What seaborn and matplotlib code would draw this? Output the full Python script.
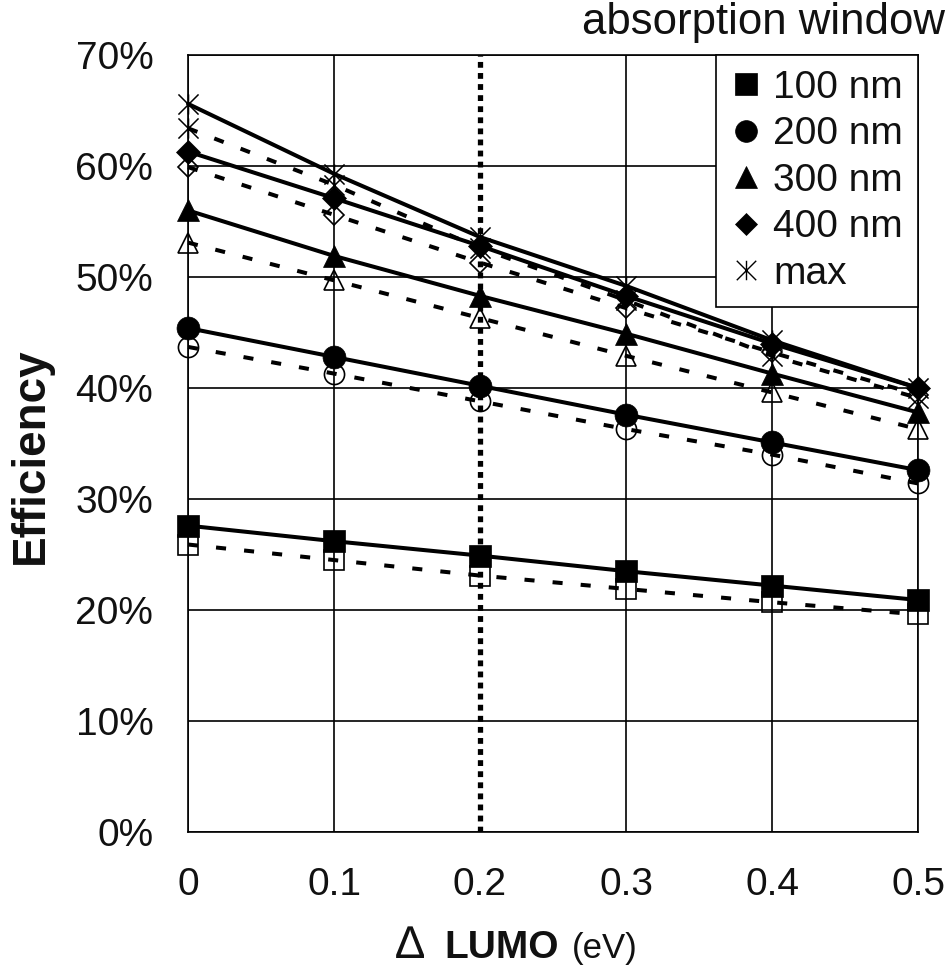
import matplotlib
matplotlib.use("Agg")
import matplotlib.pyplot as plt
from matplotlib.path import Path
from matplotlib.lines import Line2D
from matplotlib.ticker import FuncFormatter
import pandas as pd
import seaborn as sns

# ---- data -------------------------------------------------------------
delta_lumo = [0.0, 0.1, 0.2, 0.3, 0.4, 0.5]
windows = ["100 nm", "200 nm", "300 nm", "400 nm", "max"]

# efficiency (%) - solid lines, filled markers
solid_100 = [27.6, 26.2, 24.9, 23.5, 22.2, 20.9]
solid_200 = [45.4, 42.8, 40.2, 37.6, 35.1, 32.6]
solid_300 = [56.0, 51.9, 48.3, 44.9, 41.3, 37.8]
solid_400 = [61.3, 57.1, 52.8, 48.3, 44.0, 40.0]
solid_max = [65.6, 59.3, 53.6, 49.2, 44.3, 40.0]

# efficiency (%) - dashed lines, open markers
dashed_100 = [25.9, 24.5, 23.1, 21.9, 20.7, 19.6]
dashed_200 = [43.7, 41.3, 38.8, 36.3, 34.0, 31.4]
dashed_300 = [53.1, 49.7, 46.3, 42.9, 39.6, 36.3]
dashed_400 = [59.9, 55.6, 51.3, 47.2, 43.2, 39.4]
dashed_max = [63.4, 58.3, 52.6, 47.9, 42.9, 39.1]

y_ticks = [0, 10, 20, 30, 40, 50, 60, 70]
x_ticks = [0, 0.1, 0.2, 0.3, 0.4, 0.5]

solid = [solid_100, solid_200, solid_300, solid_400, solid_max]
dashed = [dashed_100, dashed_200, dashed_300, dashed_400, dashed_max]

# asterisk marker: vertical bar plus an X
asterisk = Path(
    [(0, -1), (0, 1), (-1, -1), (1, 1), (-1, 1), (1, -1)],
    [Path.MOVETO, Path.LINETO, Path.MOVETO, Path.LINETO, Path.MOVETO, Path.LINETO],
)

markers = ["s", "o", "^", "D", asterisk]
sizes = [16.0, 16.5, 16.0, 12.0, 14.5]
open_sizes = [14.0, 14.5, 14.5, 10.5, 14.5]

# ---- style ------------------------------------------------------------
sns.set_theme(style="white")
plt.rcParams["font.family"] = ["Liberation Sans", "DejaVu Sans"]
plt.rcParams["text.color"] = "#111111"

W, H = 947, 968
fig = plt.figure(figsize=(W / 100, H / 100), dpi=100)
ax = fig.add_axes([188 / W, 1 - 832 / H, (918 - 188) / W, (832 - 55) / H])

frames = []
for name, s_vals, d_vals in zip(windows, solid, dashed):
    frames.append(pd.DataFrame({"x": delta_lumo, "y": s_vals, "window": name, "kind": "solid"}))
    frames.append(pd.DataFrame({"x": delta_lumo, "y": d_vals, "window": name, "kind": "dashed"}))
df = pd.concat(frames, ignore_index=True)

# grid (the 0.2 grid line is replaced by a thick dotted line)
for xv in x_ticks:
    if abs(xv - 0.2) > 1e-9:
        ax.axvline(xv, color="black", lw=1.2, zorder=1)
for yv in y_ticks:
    ax.axhline(yv, color="black", lw=1.2, zorder=1)
ax.axvline(0.2, color="black", lw=3.8, ls=(0, (1.1, 1.0)), zorder=1.5)

# dashed series with open markers first, solid series with filled markers on top
for i, name in enumerate(windows):
    sub = df[(df.window == name) & (df.kind == "dashed")]
    is_ast = i == 4
    sns.lineplot(
        data=sub, x="x", y="y", ax=ax, color="black", lw=2.9,
        linestyle=(0, (2.5, 4.5)), marker=markers[i], markersize=open_sizes[i],
        markerfacecolor="none", markeredgecolor="black",
        markeredgewidth=1.1 if is_ast else 1.2, errorbar=None, zorder=3, clip_on=False,
    )
for i, name in enumerate(windows):
    sub = df[(df.window == name) & (df.kind == "solid")]
    is_ast = i == 4
    sns.lineplot(
        data=sub, x="x", y="y", ax=ax, color="black", lw=2.9, linestyle="-",
        marker=markers[i], markersize=sizes[i],
        markerfacecolor="none" if is_ast else "black", markeredgecolor="black",
        markeredgewidth=1.1 if is_ast else 0.5, errorbar=None, zorder=4, clip_on=False,
    )

# ---- axes -------------------------------------------------------------
ax.set_xlim(0, 0.5)
ax.set_ylim(0, 70)
ax.set_xticks(x_ticks)
ax.set_yticks(y_ticks)
ax.xaxis.set_major_formatter(FuncFormatter(lambda v, p: "0" if v == 0 else f"{v:.1f}"))
ax.yaxis.set_major_formatter(FuncFormatter(lambda v, p: f"{v:.0f}%"))
ax.tick_params(axis="both", which="major", direction="out", length=7, width=1.1,
               color="black", labelsize=28, labelcolor="#111111")
ax.tick_params(axis="y", pad=18)
ax.tick_params(axis="x", pad=18)
for sp in ax.spines.values():
    sp.set_color("black")
    sp.set_linewidth(1.2)
ax.set_xlabel("")
ax.set_ylabel("")

# axis titles
fig.text(31 / W, 1 - 456 / H, "Efficiency", rotation=90, ha="center", va="center",
         fontsize=33, fontweight="bold")
fig.text(396 / W, 1 - 958 / H, "\u2206", ha="left", va="baseline", fontsize=33)
fig.text(444 / W, 1 - 958 / H, "LUMO", ha="left", va="baseline", fontsize=28, fontweight="bold")
fig.text(572 / W, 1 - 958 / H, "(eV)", ha="left", va="baseline", fontsize=25)

# legend of the filled series
handles = []
for i, name in enumerate(windows):
    is_ast = i == 4
    handles.append(Line2D([], [], linestyle="none", marker=markers[i],
                          markersize=sizes[i] * 0.95 if not is_ast else 14,
                          markerfacecolor="none" if is_ast else "black",
                          markeredgecolor="black", markeredgewidth=1.0 if is_ast else 0.5,
                          label=name))
leg = ax.legend(handles=handles, loc="upper right", bbox_to_anchor=(1.0, 1.0),
                borderaxespad=0, fontsize=28, frameon=True, fancybox=False,
                handlelength=0.8, handletextpad=0.3, labelspacing=0.27,
                borderpad=0.38, edgecolor="black", framealpha=1)
leg.get_frame().set_linewidth(1.2)
leg.set_zorder(10)

fig.text(945 / W, 1 - 34 / H, "absorption window", ha="right", va="baseline", fontsize=31.5)

fig.savefig("out.png", dpi=100, facecolor="white")
